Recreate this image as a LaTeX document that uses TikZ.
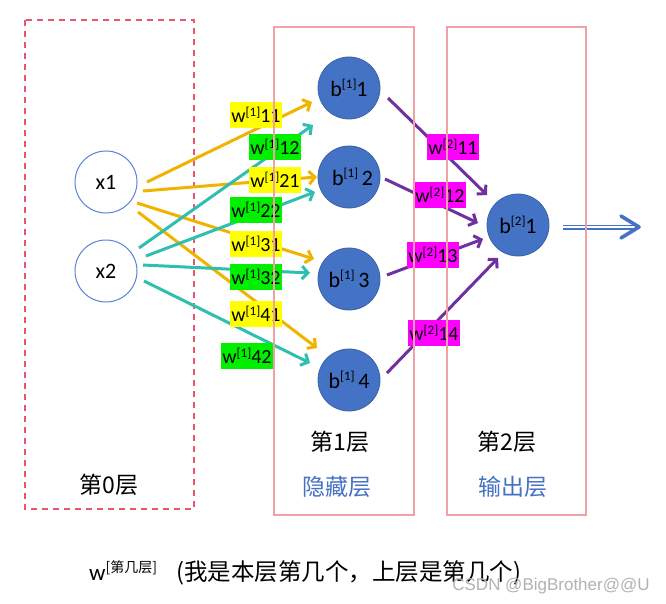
\documentclass[tikz,border=0pt]{standalone}
\usepackage{fontspec}
\setmainfont{Carlito}
\newfontfamily\cjk{Noto Sans CJK SC}
\newfontfamily\wmfont{Liberation Sans}
\usetikzlibrary{arrows.meta}
\definecolor{dashred}{HTML}{E8566E}
\definecolor{framepink}{HTML}{F2A0A8}
\definecolor{nblue}{HTML}{4472C4}
\definecolor{nborder}{HTML}{3A62A8}
\definecolor{xborder}{HTML}{5B84D6}
\definecolor{eyellow}{HTML}{F0B400}
\definecolor{eteal}{HTML}{2FBFB0}
\definecolor{epurple}{HTML}{7030A0}
\definecolor{lyellow}{HTML}{FFFF00}
\definecolor{lgreen}{HTML}{00F000}
\definecolor{lmagenta}{HTML}{FF00FF}
\newcommand\supx[2][13]{\raisebox{0.33em}{\fontsize{#1}{#1}\selectfont #2}}
\begin{document}
\begin{tikzpicture}[x=1pt,y=-1pt,
  dashbox/.style={draw=dashred,line width=1.3pt,dash pattern=on 6pt off 5pt},
  layerbox/.style={draw=framepink,line width=2pt},
  inputnode/.style={circle,draw=xborder,line width=1pt,fill=white,minimum size=62pt,inner sep=0pt,font=\fontsize{22}{24}\selectfont},
  neuron/.style={circle,draw=nborder,line width=0.8pt,fill=nblue,minimum size=62pt,inner sep=0pt,font=\fontsize{22}{24}\selectfont},
  wlab/.style={inner xsep=1pt,inner ysep=1pt,minimum width=52pt,minimum height=26pt,font=\fontsize{20}{22}\selectfont},
  wy/.style={wlab,fill=lyellow},
  wg/.style={wlab,fill=lgreen},
  wm/.style={wlab,fill=lmagenta},
  edgebase/.style={line width=3pt,-{Straight Barb[length=6pt,width=13pt]}},
  edgey/.style={edgebase,draw=eyellow},
  edget/.style={edgebase,draw=eteal},
  edgep/.style={edgebase,draw=epurple},
  laytext/.style={font=\cjk\fontsize{23}{26}\selectfont,text=black},
  laytextblue/.style={font=\cjk\fontsize{23}{26}\selectfont,text=nblue}
]
\useasboundingbox (0,0) rectangle (666,604);
\fill[white] (0,0) rectangle (666,604);

% layer 0 dashed box
\draw[dashbox] (25,20) rectangle (194,509);

% nodes
\node[inputnode] (x1) at (106,182) {x1};
\node[inputnode] (x2) at (106,271) {x2};
\node[neuron] (b11) at (349,88) {b\supx{[1]}1};
\node[neuron] (b12) at (349,177) {\hspace{7pt}b\supx{[1]}\,2};
\node[neuron] (b13) at (349,279) {b\supx{[1]}\,3};
\node[neuron] (b14) at (349,380) {b\supx{[1]}\,4};
\node[neuron] (b21) at (518,225) {b\supx{[2]}1};

% edge end points
\coordinate (sy1) at (147,182); \coordinate (ey1) at (312,102);
\coordinate (sy2) at (143,191); \coordinate (ey2) at (317,177);
\coordinate (sy3) at (137,203); \coordinate (ey3) at (314,259);
\coordinate (sy4) at (138,212); \coordinate (ey4) at (317,348);
\coordinate (st1) at (139,248); \coordinate (et1) at (313,125);
\coordinate (st2) at (146,256); \coordinate (et2) at (315,192);
\coordinate (st3) at (143,265); \coordinate (et3) at (310,273);
\coordinate (st4) at (144,281); \coordinate (et4) at (310,363);
\coordinate (sp1) at (388,98);  \coordinate (ep1) at (487,195);
\coordinate (sp2) at (385,179); \coordinate (ep2) at (478,223);
\coordinate (sp3) at (387,275); \coordinate (ep3) at (483,239);
\coordinate (sp4) at (387,373); \coordinate (ep4) at (498,258);

\draw[edgey] (sy1) -- (ey1);
\draw[edgey] (sy2) -- (ey2);
\draw[edgey] (sy3) -- (ey3);
\draw[edgey] (sy4) -- (ey4);
\draw[edget] (st1) -- (et1);
\draw[edget] (st2) -- (et2);
\draw[edget] (st3) -- (et3);
\draw[edget] (st4) -- (et4);
\draw[edgep] (sp1) -- (ep1);
\draw[edgep] (sp2) -- (ep2);
\draw[edgep] (sp3) -- (ep3);
\draw[edgep] (sp4) -- (ep4);

% weight labels
\node[wy] (l11) at (256,115) {w\supx{[1]}11};
\node[wg] (l12) at (275,147) {w\supx{[1]}12};
\node[wy] (l21) at (275,180) {w\supx{[1]}21};
\node[wg] (l22) at (256,210) {w\supx{[1]}22};
\node[wy] (l31) at (256,244) {w\supx{[1]}31};
\node[wg] (l32) at (256,277) {w\supx{[1]}32};
\node[wy] (l41) at (256,314) {w\supx{[1]}41};
\node[wg] (l42) at (247,356) {w\supx{[1]}42};
\node[wm] (m11) at (453,147) {w\supx{[2]}11};
\node[wm] (m12) at (440,195) {w\supx{[2]}12};
\node[wm] (m13) at (433,255) {w\supx{[2]}13};
\node[wm] (m14) at (434,333) {w\supx{[2]}14};

% output arrow
\coordinate (os) at (563,227);
\coordinate (oe) at (634,227);
\coordinate (otip) at (639,227);
\draw[draw=nblue,line width=1.7pt,double=white,double distance=1.6pt] (os) -- (oe);
\draw[nblue,line width=3.6pt,line join=round,line cap=round] (621,216) -- (otip) -- (621,238);

% layer frames
\draw[layerbox] (274,27) rectangle (414,515);
\draw[layerbox] (447,27) rectangle (586,515);

% layer texts
\node[laytext] (t0) at (109,485) {第0层};
\node[laytext] (t1) at (340,442) {第1层};
\node[laytextblue] (t1b) at (337,487) {隐藏层};
\node[laytext] (t2) at (507,442) {第2层};
\node[laytextblue] (t2b) at (513,487) {输出层};

% caption
\node[anchor=base west,inner sep=0pt,font=\fontsize{23}{26}\selectfont] (cap1) at (89,580) {w\supx[14]{\cjk[第几层]}};
\node[anchor=base west,inner sep=0pt,font=\cjk\fontsize{23.5}{26}\selectfont] (cap2) at (176,580) {(我是本层第几个，上层是第几个)};

% watermark
\node[inner sep=0pt,font=\wmfont\fontsize{17}{19}\selectfont,text=gray!60] (wm) at (551,586) {CSDN @BigBrother@@U};
\end{tikzpicture}
\end{document}
